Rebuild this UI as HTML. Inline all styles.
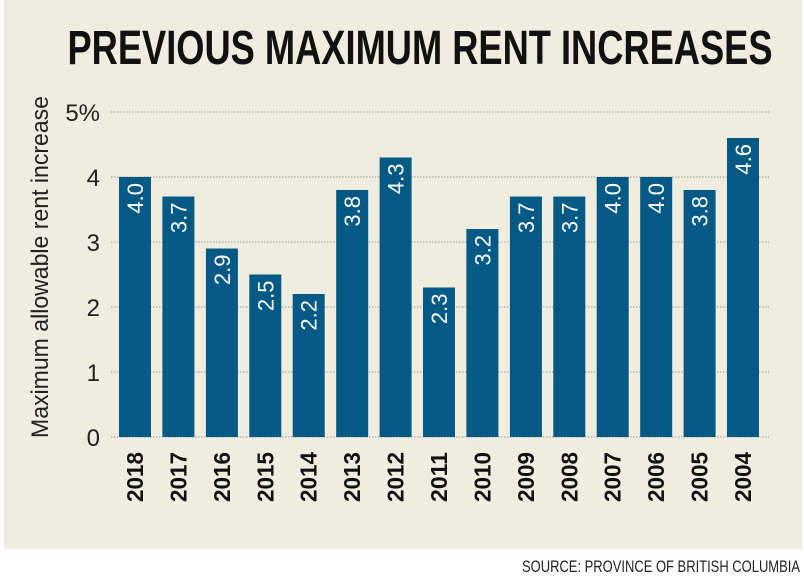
<!DOCTYPE html>
<html><head><meta charset="utf-8"><style>
html,body{margin:0;padding:0;background:#fff;width:804px;height:576px;overflow:hidden}
svg{display:block}
text{font-family:"Liberation Sans",sans-serif}
.n{font-family:"Liberation Sans Narrow","Liberation Sans",sans-serif}
.v{font-size:22px;fill:#fff;text-anchor:end}
.y{font-size:23px;font-weight:bold;fill:#111;text-anchor:end}
</style></head><body>
<svg width="804" height="576" viewBox="0 0 804 576">
<rect x="4" y="0" width="798" height="549" fill="#eeede0"/>
<text class="n" x="420" y="64" text-anchor="middle" font-size="48" font-weight="bold" fill="#111" textLength="705" lengthAdjust="spacingAndGlyphs">PREVIOUS MAXIMUM RENT INCREASES</text>
<g stroke="#999" stroke-width="1" stroke-dasharray="1.5,1.5">
<line x1="111" x2="769" y1="112" y2="112"/><line x1="111" x2="769" y1="177" y2="177"/>
<line x1="111" x2="769" y1="242" y2="242"/><line x1="111" x2="769" y1="307" y2="307"/>
<line x1="111" x2="769" y1="372" y2="372"/><line x1="111" x2="769" y1="437" y2="437"/>
</g>
<g font-size="24" fill="#222" text-anchor="end">
<text x="100" y="121">5%</text><text x="100" y="186">4</text><text x="100" y="251">3</text>
<text x="100" y="316">2</text><text x="100" y="381">1</text><text x="100" y="446">0</text>
</g>
<text transform="translate(48,267) rotate(-90)" text-anchor="middle" font-size="24" fill="#222" textLength="342" lengthAdjust="spacingAndGlyphs">Maximum allowable rent increase</text>
<g fill="#045a85">
<rect x="119" y="177" width="32" height="260"/>
<rect x="162.4" y="196.5" width="32" height="240.5"/>
<rect x="205.9" y="248.5" width="32" height="188.5"/>
<rect x="249.3" y="274.5" width="32" height="162.5"/>
<rect x="292.7" y="294" width="32" height="143"/>
<rect x="336.2" y="190" width="32" height="247"/>
<rect x="379.6" y="157.5" width="32" height="279.5"/>
<rect x="423" y="287.5" width="32" height="149.5"/>
<rect x="466.4" y="229" width="32" height="208"/>
<rect x="509.9" y="196.5" width="32" height="240.5"/>
<rect x="553.3" y="196.5" width="32" height="240.5"/>
<rect x="596.7" y="177" width="32" height="260"/>
<rect x="640.2" y="177" width="32" height="260"/>
<rect x="683.6" y="190" width="32" height="247"/>
<rect x="727" y="138" width="32" height="299"/>
</g>
<text class="v" transform="translate(143,183) rotate(-90)">4.0</text>
<text class="v" transform="translate(186.4,202.5) rotate(-90)">3.7</text>
<text class="v" transform="translate(229.9,254.5) rotate(-90)">2.9</text>
<text class="v" transform="translate(273.3,280.5) rotate(-90)">2.5</text>
<text class="v" transform="translate(316.7,300) rotate(-90)">2.2</text>
<text class="v" transform="translate(360.2,196) rotate(-90)">3.8</text>
<text class="v" transform="translate(403.6,163.5) rotate(-90)">4.3</text>
<text class="v" transform="translate(447,293.5) rotate(-90)">2.3</text>
<text class="v" transform="translate(490.4,235) rotate(-90)">3.2</text>
<text class="v" transform="translate(533.9,202.5) rotate(-90)">3.7</text>
<text class="v" transform="translate(577.3,202.5) rotate(-90)">3.7</text>
<text class="v" transform="translate(620.7,183) rotate(-90)">4.0</text>
<text class="v" transform="translate(664.2,183) rotate(-90)">4.0</text>
<text class="v" transform="translate(707.6,196) rotate(-90)">3.8</text>
<text class="v" transform="translate(751,144) rotate(-90)">4.6</text>
<g class="yy">
<text class="y" transform="translate(143,452) rotate(-90)" textLength="50" lengthAdjust="spacingAndGlyphs">2018</text>
<text class="y" transform="translate(186.4,452) rotate(-90)" textLength="50" lengthAdjust="spacingAndGlyphs">2017</text>
<text class="y" transform="translate(229.9,452) rotate(-90)" textLength="50" lengthAdjust="spacingAndGlyphs">2016</text>
<text class="y" transform="translate(273.3,452) rotate(-90)" textLength="50" lengthAdjust="spacingAndGlyphs">2015</text>
<text class="y" transform="translate(316.7,452) rotate(-90)" textLength="50" lengthAdjust="spacingAndGlyphs">2014</text>
<text class="y" transform="translate(360.2,452) rotate(-90)" textLength="50" lengthAdjust="spacingAndGlyphs">2013</text>
<text class="y" transform="translate(403.6,452) rotate(-90)" textLength="50" lengthAdjust="spacingAndGlyphs">2012</text>
<text class="y" transform="translate(447,452) rotate(-90)" textLength="50" lengthAdjust="spacingAndGlyphs">2011</text>
<text class="y" transform="translate(490.4,452) rotate(-90)" textLength="50" lengthAdjust="spacingAndGlyphs">2010</text>
<text class="y" transform="translate(533.9,452) rotate(-90)" textLength="50" lengthAdjust="spacingAndGlyphs">2009</text>
<text class="y" transform="translate(577.3,452) rotate(-90)" textLength="50" lengthAdjust="spacingAndGlyphs">2008</text>
<text class="y" transform="translate(620.7,452) rotate(-90)" textLength="50" lengthAdjust="spacingAndGlyphs">2007</text>
<text class="y" transform="translate(664.2,452) rotate(-90)" textLength="50" lengthAdjust="spacingAndGlyphs">2006</text>
<text class="y" transform="translate(707.6,452) rotate(-90)" textLength="50" lengthAdjust="spacingAndGlyphs">2005</text>
<text class="y" transform="translate(751,452) rotate(-90)" textLength="50" lengthAdjust="spacingAndGlyphs">2004</text>
</g>
<text class="n" x="800" y="572" text-anchor="end" font-size="17" fill="#222" textLength="278" lengthAdjust="spacingAndGlyphs">SOURCE: PROVINCE OF BRITISH COLUMBIA</text>
</svg>
</body></html>
